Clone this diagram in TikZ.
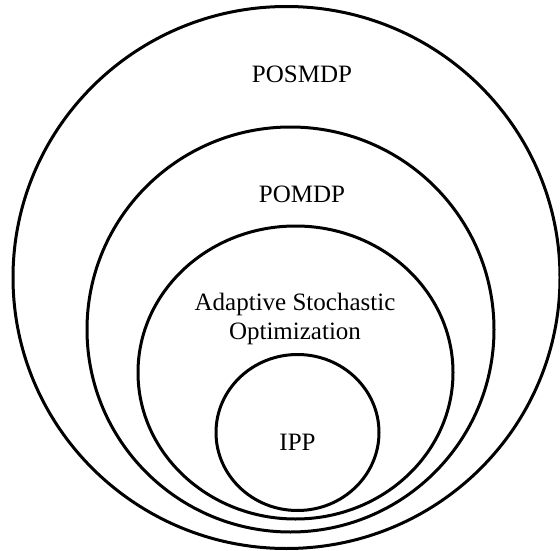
\documentclass[tikz,border=0pt]{standalone}
\usepackage{fontspec}
\setmainfont{Liberation Serif}
\begin{document}
\begin{tikzpicture}[x=1pt,y=-1pt,
  ring/.style={draw=black,line width=3pt},
  lbl/.style={inner sep=0pt,align=center,font=\fontsize{25}{29}\selectfont}]
\useasboundingbox (0,0) rectangle (560,551);
\draw[ring] (286.5,277.5) ellipse [x radius=273.5,y radius=271];
\draw[ring] (290.5,329.5) ellipse [x radius=203.5,y radius=202.5];
\draw[ring] (295.5,372.5) ellipse [x radius=157.5,y radius=146.5];
\draw[ring] (297.5,432.5) ellipse [x radius=81.5,y radius=78];
\node[lbl] (posmdp) at (302,74) {POSMDP};
\node[lbl] (pomdp) at (302,194) {POMDP};
\node[lbl] (aso) at (295,319) {Adaptive Stochastic\\Optimization};
\node[lbl] (ipp) at (297.5,442) {IPP};
\end{tikzpicture}
\end{document}
